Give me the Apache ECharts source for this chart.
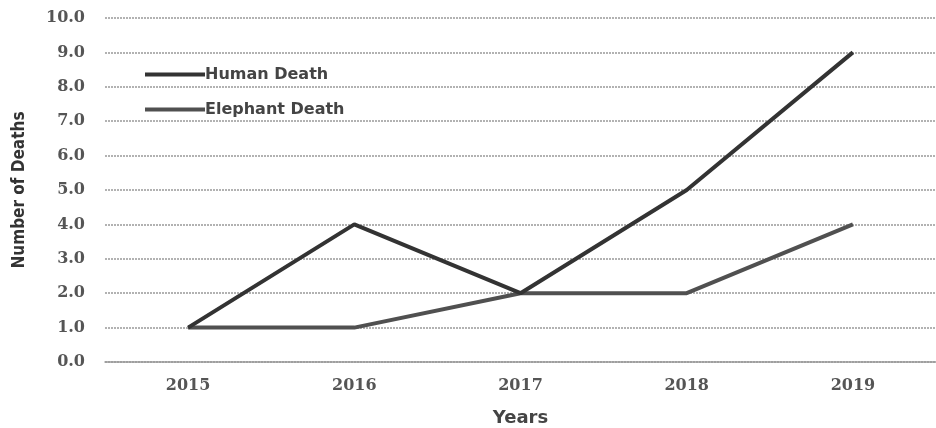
<!DOCTYPE html>
<html><head><meta charset="utf-8">
<script src="https://cdn.jsdelivr.net/npm/echarts@6/dist/echarts.min.js"></script>
<style>html,body{margin:0;padding:0;background:#fff}#c{width:936px;height:428px}</style>
</head><body><div id="c"></div>
<script>
const years = ['2015','2016','2017','2018','2019'];
const humanDeath = [1, 4, 2, 5, 9];
const elephantDeath = [1, 1, 2, 2, 4];
const seriesNames = ['Human Death', 'Elephant Death'];

const chart = echarts.init(document.getElementById('c'));
chart.setOption({
  backgroundColor: '#fff',
  animation: false,
  grid: { left: 105, right: 0, top: 18, bottom: 66, containLabel: false, outerBoundsMode: 'none' },
  legend: {
    orient: 'vertical', left: 140, top: 61,
    icon: 'rect',
    itemWidth: 60, itemHeight: 4, itemGap: 18,
    textStyle: { fontFamily: 'DejaVu Sans', fontSize: 16, fontWeight: 'bold', color: '#444', lineHeight: 17, padding: [0,0,0,-5] },
    data: seriesNames
  },
  xAxis: {
    type: 'category', data: years, boundaryGap: true,
    name: 'Years', nameLocation: 'middle', nameGap: 47,
    nameTextStyle: { fontFamily: 'DejaVu Sans', fontSize: 18, fontWeight: 'bold', color: '#444' },
    axisLine: { show: true, lineStyle: { color: '#999', width: 1.5 } },
    axisTick: { show: false },
    axisLabel: { fontFamily: 'DejaVu Serif', fontSize: 16, fontWeight: 'bold', color: '#555', margin: 16 }
  },
  yAxis: {
    type: 'value', min: 0, max: 10, interval: 1,
    name: 'Number of Deaths', nameLocation: 'middle', nameGap: 77,
    nameTextStyle: { fontFamily: "'DejaVu Sans Condensed', 'Liberation Sans Narrow', sans-serif", fontSize: 17, fontWeight: 'bold', color: '#333' },
    axisLine: { show: false }, axisTick: { show: false },
    axisLabel: { formatter: v => v.toFixed(1), fontFamily: 'DejaVu Serif', fontSize: 16, fontWeight: 'bold', color: '#555', margin: 20 },
    splitLine: { lineStyle: { color: '#999', width: 1.5, type: [2, 1] } }
  },
  series: [
    { name: seriesNames[0], type: 'line', data: humanDeath, symbol: 'none',
      lineStyle: { color: '#333', width: 4 }, itemStyle: { color: '#333' }, z: 3 },
    { name: seriesNames[1], type: 'line', data: elephantDeath, symbol: 'none',
      lineStyle: { color: '#505050', width: 4 }, itemStyle: { color: '#505050' }, z: 2 }
  ]
});
</script></body></html>
